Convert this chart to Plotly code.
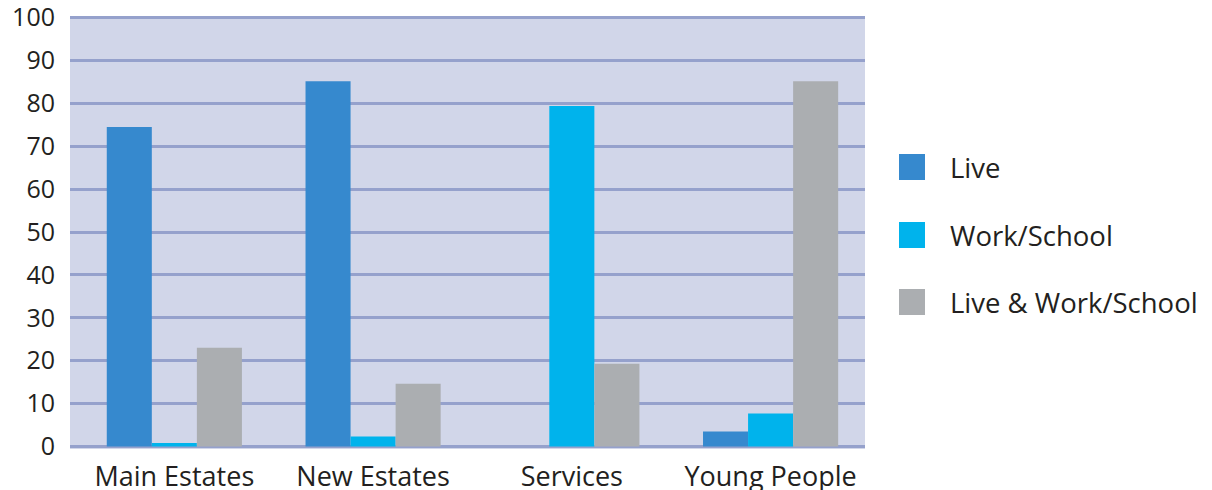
import plotly.graph_objects as go

# Chart data
categories = ["Main Estates", "New Estates", "Services", "Young People"]
series_names = ["Live", "Work/School", "Live & Work/School"]
live = [74.5, 85.2, 0, 3.5]
work_school = [0.8, 2.3, 79.4, 7.7]
live_work_school = [23.0, 14.6, 19.3, 85.2]
y_ticks = [0, 10, 20, 30, 40, 50, 60, 70, 80, 90, 100]

colors = ["#3689CE", "#00B3EC", "#ABAEB1"]
series_values = [live, work_school, live_work_school]

W, H = 1212, 490
M_L, M_R, M_T, M_B = 70, 347, 16, 41
FONT = "Open Sans"
TEXT = "#231F20"

fig = go.Figure()
for name, vals, col in zip(series_names, series_values, colors):
    fig.add_trace(go.Bar(
        x=categories, y=vals, name=name,
        marker=dict(color=col, line=dict(width=0)),
        showlegend=False,
    ))

# Legend drawn as large swatches with labels to the right of the plot
plot_w = W - M_L - M_R
plot_h = H - M_T - M_B
shapes, annotations = [], []
legend_y_px = [167, 235, 302]
for name, col, yc in zip(series_names, colors, legend_y_px):
    x0 = (899 - M_L) / plot_w
    x1 = (925 - M_L) / plot_w
    y0 = (H - M_B - (yc + 13)) / plot_h
    y1 = (H - M_B - (yc - 13)) / plot_h
    shapes.append(dict(type="rect", xref="paper", yref="paper",
                       x0=x0, x1=x1, y0=y0, y1=y1,
                       fillcolor=col, line=dict(width=0), layer="above"))
    annotations.append(dict(xref="paper", yref="paper",
                            x=(948 - M_L) / plot_w,
                            y=(H - M_B - yc) / plot_h,
                            text=name, showarrow=False,
                            xanchor="left", yanchor="middle",
                            font=dict(family=FONT, size=27.5, color=TEXT)))

fig.update_layout(
    width=W, height=H,
    margin=dict(l=M_L, r=M_R, t=M_T, b=M_B),
    paper_bgcolor="white",
    plot_bgcolor="#D1D6E9",
    barmode="group",
    bargap=0.32,
    bargroupgap=0,
    showlegend=False,
    shapes=shapes,
    annotations=annotations,
    xaxis=dict(
        type="category",
        range=[-0.525, 3.475],
        automargin=False,
        showgrid=False, zeroline=False, showline=False,
        ticks="", ticklabelstandoff=9,
        tickfont=dict(family=FONT, size=27, color=TEXT),
    ),
    yaxis=dict(
        automargin=False,
        range=[-0.6, 100.4],
        tickvals=y_ticks,
        ticktext=[str(v) for v in y_ticks],
        ticklabeloverflow="allow",
        showgrid=True, gridcolor="#95A1CC", gridwidth=2.5,
        zeroline=False, showline=False,
        ticks="", ticklabelstandoff=14,
        tickfont=dict(family=FONT, size=25, color=TEXT),
    ),
)

fig.write_html("out.html")
